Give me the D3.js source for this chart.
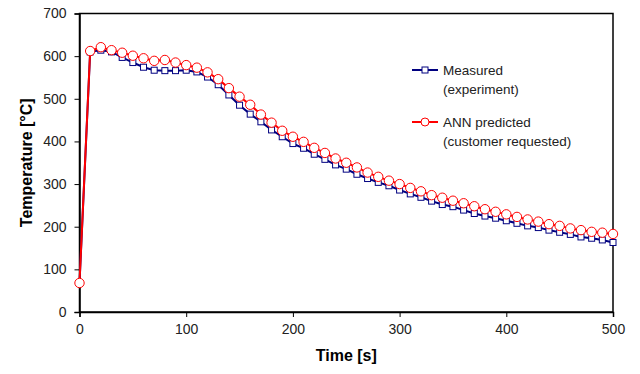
<!DOCTYPE html>
<html>
<head>
<meta charset="utf-8">
<script src="https://cdn.jsdelivr.net/npm/d3@7"></script>
<style>
  body { margin: 0; background: #fff; }
  svg { display: block; font-family: "Liberation Sans", Arial, sans-serif; }
</style>
</head>
<body>
<svg width="640" height="374"></svg>
<script>
// time points [s]
var times = [0,10,20,30,40,50,60,70,80,90,100,110,120,130,140,150,160,170,180,190,200,
  210,220,230,240,250,260,270,280,290,300,310,320,330,340,350,360,370,380,390,400,
  410,420,430,440,450,460,470,480,490,500];

// Measured (experiment)
var measured = [67,610,614,610,597,585,574,567,566,566,567,563,551,533,509,485,464,446,427,411,395,
  384,370,358,345,335,323,313,304,296,286,277,269,260,252,247,239,231,225,220,214,
  208,202,198,192,187,182,176,173,169,163];

// ANN predicted (customer requested)
var predicted = [68,612,621,614,608,601,595,589,591,585,579,573,562,546,525,505,486,463,444,425,411,
  399,385,373,360,350,339,327,317,308,300,291,283,274,268,261,255,248,241,235,229,
  223,217,212,206,202,196,192,188,186,183];

var xTicks = [0,100,200,300,400,500];
var yTicks = [0,100,200,300,400,500,600,700];

var svg = d3.select("svg");
var pLeft = 79.5, pRight = 613, pTop = 13.5, pBottom = 312;

var x = d3.scaleLinear().domain([0, 500]).range([pLeft, pRight]);
var y = d3.scaleLinear().domain([0, 700]).range([pBottom, pTop]);

// frame
svg.append("rect")
  .attr("x", pLeft).attr("y", pTop)
  .attr("width", pRight - pLeft).attr("height", pBottom - pTop)
  .style("fill", "none").style("stroke", "black").style("stroke-width", 1.5);

// axes
var xAxis = svg.append("g")
  .attr("transform", "translate(0," + pBottom + ")")
  .call(d3.axisBottom(x).tickValues(xTicks).tickSize(5).tickPadding(7));
var yAxis = svg.append("g")
  .attr("transform", "translate(" + pLeft + ",0)")
  .call(d3.axisLeft(y).tickValues(yTicks).tickSize(5).tickPadding(8));

[xAxis, yAxis].forEach(function (g) {
  g.select(".domain").style("stroke", "black").style("stroke-width", 1.5);
  g.selectAll(".tick line").style("stroke", "black").style("stroke-width", 1);
  g.selectAll("text").style("font-size", "14px").style("fill", "#222")
    .style("font-family", "'Liberation Sans', Arial, sans-serif");
});

// axis titles
svg.append("text")
  .attr("x", (pLeft + pRight) / 2).attr("y", 361)
  .attr("text-anchor", "middle")
  .style("font-size", "16px").style("font-weight", "bold")
  .text("Time [s]");

svg.append("text")
  .attr("transform", "translate(32," + ((pTop + pBottom) / 2) + ") rotate(-90)")
  .attr("text-anchor", "middle")
  .style("font-size", "16px").style("font-weight", "bold")
  .text("Temperature [°C]");

var line = d3.line()
  .x(function (d) { return x(d.t); })
  .y(function (d) { return y(d.v); });

var mData = times.map(function (t, i) { return { t: t, v: measured[i] }; });
var pData = times.map(function (t, i) { return { t: t, v: predicted[i] }; });

// measured series
svg.append("path").datum(mData).attr("d", line)
  .style("fill", "none").style("stroke", "#000080").style("stroke-width", 2);
svg.selectAll("rect.m").data(mData).enter().append("rect")
  .attr("class", "m")
  .attr("x", function (d) { return x(d.t) - 3; })
  .attr("y", function (d) { return y(d.v) - 3; })
  .attr("width", 6).attr("height", 6)
  .style("fill", "white").style("stroke", "#000080").style("stroke-width", 1);

// predicted series
svg.append("path").datum(pData).attr("d", line)
  .style("fill", "none").style("stroke", "#ff0000").style("stroke-width", 2);
svg.selectAll("circle.p").data(pData).enter().append("circle")
  .attr("class", "p")
  .attr("cx", function (d) { return x(d.t); })
  .attr("cy", function (d) { return y(d.v); })
  .attr("r", 4.7)
  .style("fill", "white").style("stroke", "#ff0000").style("stroke-width", 1);

// legend
var legend = [
  { color: "#000080", shape: "square", lines: ["Measured", "(experiment)"], y: 70 },
  { color: "#ff0000", shape: "circle", lines: ["ANN predicted", "(customer requested)"], y: 122 }
];
legend.forEach(function (l) {
  svg.append("line").attr("x1", 412).attr("x2", 438).attr("y1", l.y).attr("y2", l.y)
    .style("stroke", l.color).style("stroke-width", 2);
  if (l.shape === "square") {
    svg.append("rect").attr("x", 422).attr("y", l.y - 3).attr("width", 6).attr("height", 6)
      .style("fill", "white").style("stroke", l.color);
  } else {
    svg.append("circle").attr("cx", 425).attr("cy", l.y).attr("r", 4)
      .style("fill", "white").style("stroke", l.color);
  }
  l.lines.forEach(function (txt, i) {
    svg.append("text").attr("x", 443).attr("y", l.y + 5 + i * 19)
      .style("font-size", "13.5px").style("fill", "#222").text(txt);
  });
});
</script>
</body>
</html>
